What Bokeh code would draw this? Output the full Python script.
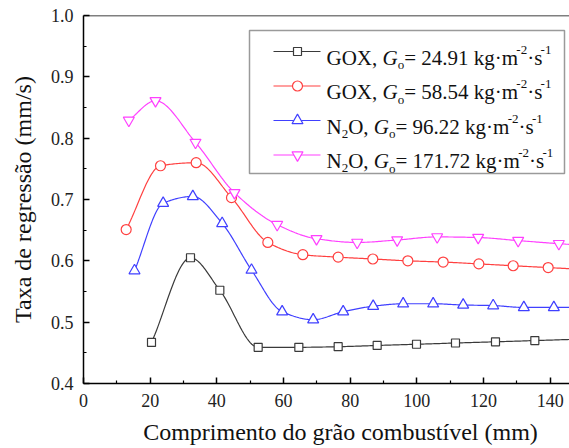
import numpy as np
from bokeh.plotting import figure
from bokeh.models import Range1d, FixedTicker, PrintfTickFormatter, Span, Label
from bokeh.embed import file_html
from bokeh.resources import INLINE

# Regression rate (mm/s) measured along the fuel grain (mm)
gox_low_x = [20.4, 32.1, 40.9, 52.4, 64.6, 76.4, 88.1, 99.9, 111.6, 123.6, 135.4, 147.2]
gox_low_y = [0.467, 0.605, 0.552, 0.459, 0.459, 0.460, 0.462, 0.464, 0.466, 0.468, 0.470, 0.472]

gox_high_x = [12.8, 23.1, 33.8, 44.4, 55.3, 65.8, 76.4, 86.8, 97.3, 107.9, 118.6, 128.9, 139.4, 150.0]
gox_high_y = [0.651, 0.755, 0.760, 0.703, 0.630, 0.610, 0.606, 0.603, 0.600, 0.598, 0.595, 0.592, 0.589, 0.586]

n2o_low_x = [15.3, 23.9, 32.8, 41.6, 50.4, 59.6, 68.9, 77.9, 86.9, 95.9, 104.9, 113.9, 122.9, 132.1, 141.1, 150.1]
n2o_low_y = [0.584, 0.694, 0.705, 0.661, 0.585, 0.517, 0.504, 0.517, 0.526, 0.530, 0.530, 0.528, 0.527, 0.524, 0.524, 0.524]

n2o_high_x = [13.6, 21.6, 33.6, 45.3, 58.1, 69.9, 82.1, 94.1, 106.1, 118.4, 130.4, 142.6, 154.6]
n2o_high_y = [0.829, 0.861, 0.793, 0.711, 0.659, 0.636, 0.630, 0.634, 0.639, 0.638, 0.633, 0.628, 0.624]

x_ticks = [0, 20, 40, 60, 80, 100, 120, 140]
x_minor = [10, 30, 50, 70, 90, 110, 130]
y_ticks = [0.4, 0.5, 0.6, 0.7, 0.8, 0.9, 1.0]
y_minor = [0.45, 0.55, 0.65, 0.75, 0.85, 0.95]

FONT = "Liberation Serif"
W, H = 569, 448
LEFT, TOP, BOTTOM = 83, 15, 65
X0, X1 = 0.0, 145.8
Y0, Y1 = 0.4, 1.0
FW, FH = W - LEFT, H - TOP - BOTTOM


def dx(px):
    return X0 + (px - LEFT) * (X1 - X0) / FW


def dy(py):
    return Y1 - (py - TOP) * (Y1 - Y0) / FH


def smooth_curve(xs, ys, per=24):
    """Shape-preserving cubic (Fritsch-Carlson) connecting curve through the points."""
    x = np.asarray(xs, float)
    y = np.asarray(ys, float)
    n = len(x)
    h = np.diff(x)
    d = np.diff(y) / h
    m = np.zeros(n)
    m[0], m[-1] = d[0], d[-1]
    for i in range(1, n - 1):
        if d[i - 1] * d[i] <= 0:
            m[i] = 0.0
        else:
            w1 = 2 * h[i] + h[i - 1]
            w2 = h[i] + 2 * h[i - 1]
            m[i] = (w1 + w2) / (w1 / d[i - 1] + w2 / d[i])
    xx, yy = [], []
    for i in range(n - 1):
        t = np.linspace(0, 1, per, endpoint=(i == n - 2))
        h00 = 2 * t ** 3 - 3 * t ** 2 + 1
        h10 = t ** 3 - 2 * t ** 2 + t
        h01 = -2 * t ** 3 + 3 * t ** 2
        h11 = t ** 3 - t ** 2
        s = h00 * y[i] + h10 * h[i] * m[i] + h01 * y[i + 1] + h11 * h[i] * m[i + 1]
        xx.extend((x[i] + t * h[i]).tolist())
        yy.extend(s.tolist())
    return xx, yy


p = figure(width=W, height=H, output_backend="svg", toolbar_location=None,
           x_range=Range1d(X0, X1), y_range=Range1d(Y0, Y1),
           min_border_left=LEFT, min_border_right=0, min_border_top=TOP,
           min_border_bottom=BOTTOM, background_fill_color="white",
           border_fill_color="white")
p.outline_line_color = None
p.xgrid.visible = False
p.ygrid.visible = False

series = [
    (gox_low_x, gox_low_y, "#3a3a3a", "square", 8,
     [("GOX, ", "n"), ("G", "i"), ("o", "sub"), ("= 24.91 kg·m", "n"), ("-2", "sup"), ("·s", "n"), ("-1", "sup")]),
    (gox_high_x, gox_high_y, "#ff4040", "circle", 10,
     [("GOX, ", "n"), ("G", "i"), ("o", "sub"), ("= 58.54 kg·m", "n"), ("-2", "sup"), ("·s", "n"), ("-1", "sup")]),
    (n2o_low_x, n2o_low_y, "#4040ff", "triangle", 11,
     [("N", "n"), ("2", "sub"), ("O, ", "n"), ("G", "i"), ("o", "sub"), ("= 96.22 kg·m", "n"), ("-2", "sup"), ("·s", "n"), ("-1", "sup")]),
    (n2o_high_x, n2o_high_y, "#ff40ff", "inverted_triangle", 11,
     [("N", "n"), ("2", "sub"), ("O, ", "n"), ("G", "i"), ("o", "sub"), ("= 171.72 kg·m", "n"), ("-2", "sup"), ("·s", "n"), ("-1", "sup")]),
]

for xs, ys, color, marker, size, _ in series:
    sx, sy = smooth_curve(xs, ys)
    p.line(sx, sy, line_color=color, line_width=1.2)
    p.scatter(xs, ys, marker=marker, size=size, fill_color="white",
              line_color=color, line_width=1.2)

# Axes
p.xaxis.ticker = FixedTicker(ticks=x_ticks, minor_ticks=x_minor)
p.yaxis.ticker = FixedTicker(ticks=y_ticks, minor_ticks=y_minor)
p.xaxis.formatter = PrintfTickFormatter(format="%d")
p.yaxis.formatter = PrintfTickFormatter(format="%.1f")
for ax in (p.xaxis, p.yaxis):
    ax.axis_line_color = "black"
    ax.axis_line_width = 1.5
    ax.major_tick_line_color = "black"
    ax.major_tick_line_width = 1.5
    ax.major_tick_in = 6
    ax.major_tick_out = 0
    ax.minor_tick_line_color = "black"
    ax.minor_tick_line_width = 1.2
    ax.minor_tick_in = 3
    ax.minor_tick_out = 0
    ax.major_label_text_font = FONT
    ax.major_label_text_font_size = "18px"
    ax.major_label_text_color = "#222222"
    ax.major_label_standoff = 10
p.yaxis.axis_label = "Taxa de regressão (mm/s)"
p.yaxis.axis_label_text_font = FONT
p.yaxis.axis_label_text_font_size = "24px"
p.yaxis.axis_label_text_font_style = "normal"
p.yaxis.axis_label_text_color = "#111111"
p.yaxis.axis_label_standoff = 12

p.add_layout(Span(location=Y1, dimension="width", line_color="black", line_width=1.5))

# x-axis title in the panel under the axis, centred on the full grain length
p.add_layout(Label(x=dx(340), y=4, x_units="data", y_units="screen",
                   text="Comprimento do grão combustível (mm)",
                   text_font=FONT, text_font_size="24px", text_font_style="normal",
                   text_color="#111111", text_align="center",
                   text_baseline="alphabetic"), "below")

# Legend box drawn by hand so the entries can carry sub/superscripts
p.quad(left=[dx(249)], right=[dx(564)], top=[dy(30)], bottom=[dy(173)],
       fill_color="white", line_color="#9a9a9a", line_width=1.5)

ADV = {" ": 250, ",": 250, ".": 250, "-": 333, "=": 564, "G": 722, "O": 722, "X": 722,
       "N": 722, "k": 500, "g": 500, "m": 778, "s": 389, "o": 500, "·": 250}
MAIN, SMALL = 21, 13


def advance(txt, fs):
    return sum(ADV.get(ch, 500) for ch in txt) * fs / 1000.0


def rich_text(x_px, base_px, pieces):
    cx = x_px
    for txt, kind in pieces:
        fs = SMALL if kind in ("sub", "sup") else MAIN
        by = base_px + (7 if kind == "sub" else -8 if kind == "sup" else 0)
        p.add_layout(Label(x=dx(cx), y=dy(by), text=txt, text_font=FONT,
                           text_font_size=f"{fs}px",
                           text_font_style="italic" if kind == "i" else "normal",
                           text_color="#111111", text_align="left",
                           text_baseline="alphabetic"))
        cx += advance(txt, fs)


for i, (_, _, color, marker, size, pieces) in enumerate(series):
    base = 57 + i * 34.5
    ly = base - 6
    p.line([dx(273), dx(320)], [dy(ly), dy(ly)], line_color=color, line_width=1.2)
    p.scatter([dx(297)], [dy(ly)], marker=marker, size=size, fill_color="white",
              line_color=color, line_width=1.2)
    rich_text(326, base, pieces)

open("out.html", "w").write(file_html(p, INLINE))
